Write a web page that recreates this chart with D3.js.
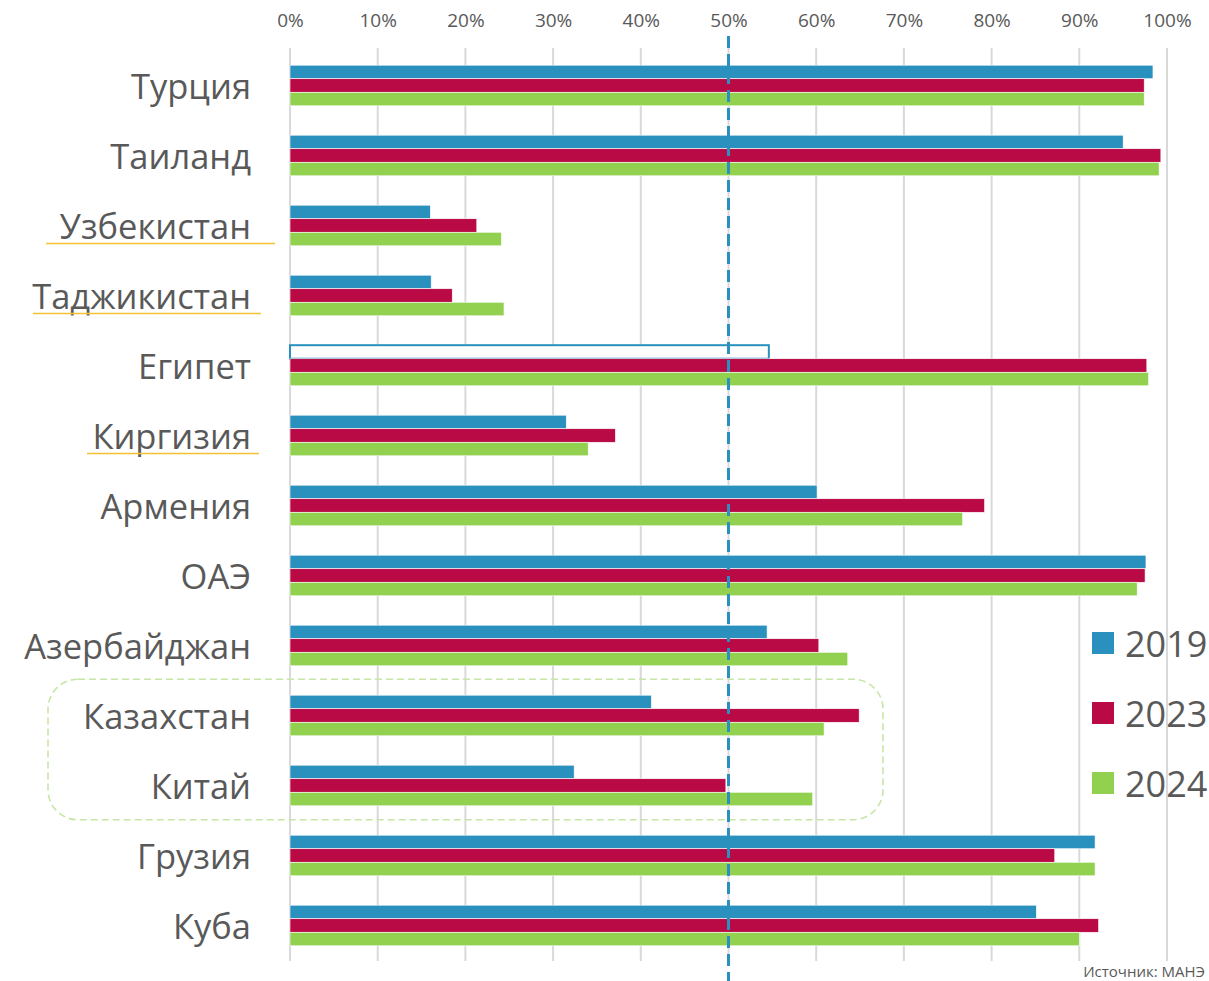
<!DOCTYPE html>
<html><head><meta charset="utf-8">
<script src="https://cdn.jsdelivr.net/npm/d3@7"></script>
<style>
html,body{margin:0;padding:0;background:#fff;overflow:hidden}
text{font-family:"Open Sans","Noto Sans",sans-serif;fill:#595959}
</style></head>
<body><svg id="c" width="1209" height="981"></svg>
<script>
const categories = ["Турция","Таиланд","Узбекистан","Таджикистан","Египет","Киргизия","Армения","ОАЭ","Азербайджан","Казахстан","Китай","Грузия","Куба"];
const seriesNames = ["2019","2023","2024"];
const colors = ["#2a91bf","#b90a46","#92d050"];
const v2019 = [98.4,95.0,16.0,16.1,54.6,31.5,60.1,97.6,54.4,41.2,32.4,91.8,85.1];
const v2023 = [97.4,99.3,21.3,18.5,97.7,37.1,79.2,97.5,60.3,64.9,49.7,87.2,92.2];
const v2024 = [97.4,99.1,24.1,24.4,97.9,34.0,76.7,96.6,63.6,60.9,59.6,91.8,90.0];
const hollow2019 = ["Египет"];
const underlined = ["Узбекистан","Таджикистан","Киргизия"];
const highlighted = ["Казахстан","Китай"];
const ticks = [0,10,20,30,40,50,60,70,80,90,100];
const refLine = 50;
const sourceText = "Источник: МАНЭ";

const svg = d3.select("#c");
const x = d3.scaleLinear().domain([0,100]).range([290,1167]);
const y = d3.scaleBand().domain(categories).range([50.5,960.5]).paddingInner(0.42).paddingOuter(0.21);
const inner = d3.scaleBand().domain(seriesNames).range([0,y.bandwidth()]);
const series = [v2019,v2023,v2024];

// grid
svg.append("g").selectAll("line").data(ticks).join("line")
  .attr("x1",d=>x(d)).attr("x2",d=>x(d)).attr("y1",48).attr("y2",961)
  .attr("stroke","#d9d9d9").attr("stroke-width",2);
// top axis labels
const ax = svg.append("g").attr("transform","translate(0,27)")
  .call(d3.axisTop(x).tickValues(ticks).tickFormat(d=>d+"%").tickSize(0).tickPadding(0));
ax.select(".domain").remove();
ax.selectAll("text").attr("font-size",19).attr("fill","#595959").style("font-family","'Open Sans',sans-serif");

// bars
const g = svg.append("g");
categories.forEach((c,i)=>{
  series.forEach((s,j)=>{
    const isHollow = j===0 && hollow2019.includes(c);
    g.append("rect")
      .attr("x",x(0)).attr("y",y(c)+inner(seriesNames[j]))
      .attr("width",x(s[i])-x(0)).attr("height",inner.bandwidth())
      .attr("fill",isHollow?"#fff":colors[j])
      .attr("stroke",isHollow?colors[j]:"#fff")
      .attr("stroke-width",isHollow?2:0.6);
  });
});

// category labels
const lab = svg.append("g");
categories.forEach(c=>{
  lab.append("text").attr("x",251).attr("y",y(c)+y.bandwidth()/2)
    .attr("text-anchor","end").attr("dominant-baseline","central")
    .attr("font-size",34.5).text(c);
});
// underlines
const ul = {"Узбекистан":[46,275],"Таджикистан":[33,261],"Киргизия":[87,259]};
underlined.forEach(c=>{
  svg.append("line").attr("x1",ul[c][0]).attr("x2",ul[c][1])
    .attr("y1",y(c)+y.bandwidth()/2+18).attr("y2",y(c)+y.bandwidth()/2+18)
    .attr("stroke","#f2c234").attr("stroke-width",1.5);
});

// highlight box
const hy0 = y(highlighted[0]) - 16, hy1 = y(highlighted[highlighted.length-1]) + y.bandwidth() + 14;
svg.append("rect").attr("x",48).attr("y",hy0).attr("width",835).attr("height",hy1-hy0)
  .attr("rx",30).attr("ry",30).attr("fill","none").attr("stroke","#c6e6a8")
  .attr("stroke-width",1.6).attr("stroke-dasharray","7,4");

// 50% reference line
svg.append("line").attr("x1",x(refLine)).attr("x2",x(refLine)).attr("y1",36).attr("y2",981)
  .attr("stroke","#2a91bf").attr("stroke-width",3).attr("stroke-dasharray","12,6");

// legend
const lg = svg.append("g");
seriesNames.forEach((s,j)=>{
  const cy = 643 + j*70;
  lg.append("rect").attr("x",1092).attr("y",cy-11).attr("width",22).attr("height",22).attr("fill",colors[j]);
  lg.append("text").attr("x",1125).attr("y",cy).attr("dominant-baseline","central").attr("font-size",36).text(s);
});

// source
svg.append("text").attr("x",1205).attr("y",977).attr("text-anchor","end").attr("font-size",15).text(sourceText);
</script></body></html>
